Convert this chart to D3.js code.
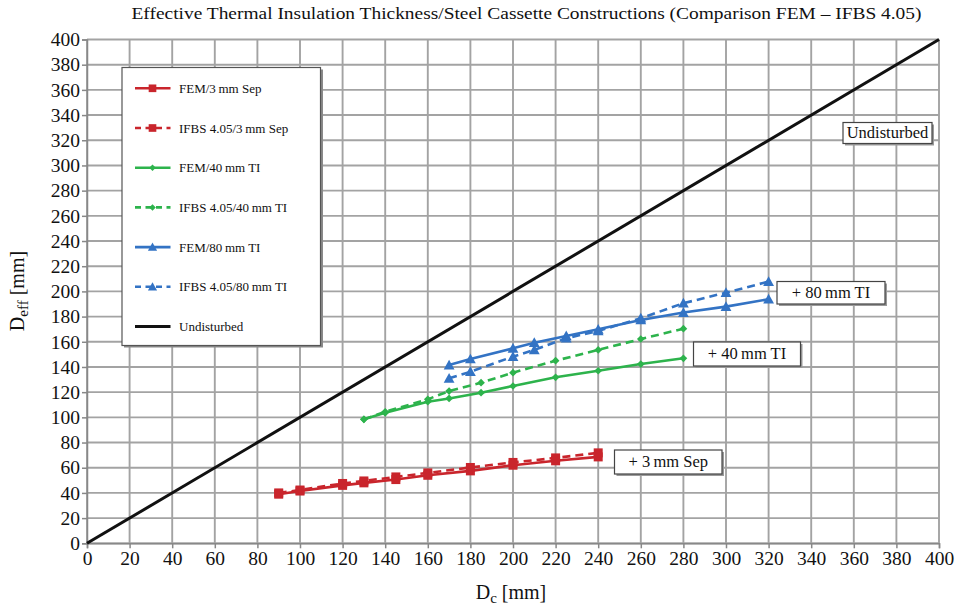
<!DOCTYPE html>
<html><head><meta charset="utf-8">
<script src="https://cdn.jsdelivr.net/npm/d3@7"></script>
<style>
body{margin:0;background:#fff;}
text{font-family:"Liberation Serif","Times New Roman",serif;fill:#111;}
</style></head>
<body><svg id="c" width="963" height="610"></svg>
<script>
// ---- data ----
const xTicks = d3.range(0, 401, 20);
const yTicks = d3.range(0, 401, 20);

const sepX = [90, 100, 120, 130, 145, 160, 180, 200, 220, 240];
const femSep = [39, 41.5, 46, 48, 50.6, 54, 57.5, 62, 65.5, 68.6];
const ifbsSep = [40, 42.3, 47.5, 49.5, 52.7, 55.9, 60.2, 64.2, 67.8, 71.8];

const ti40X = [130, 140, 160, 170, 185, 200, 220, 240, 260, 280];
const fem40 = [98.4, 103.6, 112.4, 115, 119.6, 124.9, 131.8, 137, 142.3, 146.9];
const ifbs40 = [98.4, 104.4, 114.3, 120.9, 127.5, 135.5, 145, 153.5, 162.2, 170.4];

const ti80X = [170, 180, 200, 210, 225, 240, 260, 280, 300, 320];
const fem80 = [141.5, 146.3, 154.8, 159.3, 164.6, 169.9, 177.3, 183.2, 187.9, 193.8];
const ifbs80 = [131, 136.2, 148.2, 153.5, 162.8, 168.6, 178.7, 190.6, 199, 207.8];

const undistX = [0, 400];
const undistY = [0, 400];

const seriesNames = ["FEM/3\u2009mm Sep", "IFBS 4.05/3\u2009mm Sep", "FEM/40\u2009mm TI", "IFBS 4.05/40\u2009mm TI", "FEM/80\u2009mm TI", "IFBS 4.05/80\u2009mm TI", "Undisturbed"];
const labelTexts = ["Undisturbed", "+ 80\u2009mm TI", "+ 40\u2009mm TI", "+ 3\u2009mm Sep"];

// ---- chart ----
const RED = "#c9252c", GREEN = "#2db34c", BLUE = "#3373c4";
const series = [
  {name: seriesNames[0], xs: sepX, ys: femSep, color: RED, dash: null, marker: "square"},
  {name: seriesNames[1], xs: sepX, ys: ifbsSep, color: RED, dash: "8,5", marker: "square"},
  {name: seriesNames[2], xs: ti40X, ys: fem40, color: GREEN, dash: null, marker: "diamond"},
  {name: seriesNames[3], xs: ti40X, ys: ifbs40, color: GREEN, dash: "8,5", marker: "diamond"},
  {name: seriesNames[4], xs: ti80X, ys: fem80, color: BLUE, dash: null, marker: "triangle"},
  {name: seriesNames[5], xs: ti80X, ys: ifbs80, color: BLUE, dash: "8,5", marker: "triangle"},
  {name: seriesNames[6], xs: undistX, ys: undistY, color: "#111", dash: null, marker: null}
];

const svg = d3.select("#c");
const L = 87, R = 939, T = 39.5, B = 543.3;
const x = d3.scaleLinear().domain([0, 400]).range([L, R]);
const y = d3.scaleLinear().domain([0, 400]).range([B, T]);

// grid
const g = svg.append("g");
g.selectAll("line.vx").data(xTicks).join("line")
  .attr("x1", d => x(d)).attr("x2", d => x(d)).attr("y1", T).attr("y2", B)
  .attr("stroke", "#a3a3a3").attr("stroke-width", 1.9);
g.selectAll("line.hy").data(yTicks).join("line")
  .attr("y1", d => y(d)).attr("y2", d => y(d)).attr("x1", L).attr("x2", R)
  .attr("stroke", "#a3a3a3").attr("stroke-width", 1.9);

// axes
const xAxis = d3.axisBottom(x).tickValues(xTicks).tickSize(5).tickPadding(3);
const yAxis = d3.axisLeft(y).tickValues(yTicks).tickSize(5).tickPadding(2);
const gx = svg.append("g").attr("transform", `translate(0,${B})`).call(xAxis);
const gy = svg.append("g").attr("transform", `translate(${L},0)`).call(yAxis);
[gx, gy].forEach(a => {
  a.attr("font-family", null).attr("font-size", null);
  a.select(".domain").attr("stroke", "#888").attr("stroke-width", 1.5);
  a.selectAll(".tick line").attr("stroke", "#888").attr("stroke-width", 1.5);
  a.selectAll(".tick text").style("font-family", '"Liberation Serif","Times New Roman",serif').style("font-size", "19.5px").attr("fill", "#111");
});

// markers
function marker(sel, type, color, size) {
  if (type === "square") {
    sel.append("rect").attr("x", -size/2).attr("y", -size/2).attr("width", size).attr("height", size).attr("fill", color);
  } else if (type === "diamond") {
    const s = size * 0.55;
    sel.append("path").attr("d", `M0,${-s}L${s},0L0,${s}L${-s},0Z`).attr("fill", color);
  } else if (type === "triangle") {
    const s = size * 0.6;
    sel.append("path").attr("d", `M0,${-s}L${s},${s*0.8}L${-s},${s*0.8}Z`).attr("fill", color);
  }
}
const msize = {square: 9, diamond: 7, triangle: 9};

const line = d3.line().x(d => x(d[0])).y(d => y(d[1]));
const order = [6, 2, 3, 4, 5, 0, 1];
order.forEach(i => {
  const s = series[i];
  const pts = s.xs.map((v, k) => [v, s.ys[k]]);
  svg.append("path").datum(pts).attr("d", line)
    .attr("fill", "none").attr("stroke", s.color)
    .attr("stroke-width", s.marker ? 2.6 : 3)
    .attr("stroke-dasharray", s.dash);
  if (s.marker) {
    pts.forEach(p => {
      const m = svg.append("g").attr("transform", `translate(${x(p[0])},${y(p[1])})`);
      marker(m, s.marker, s.color, msize[s.marker]);
    });
  }
});

// boxed labels with shadow
function boxLabel(x0, y0, w, h, txt, fs) {
  const gg = svg.append("g");
  gg.append("rect").attr("x", x0 + 2).attr("y", y0 + 2).attr("width", w).attr("height", h).attr("fill", "#9a9a9a");
  gg.append("rect").attr("x", x0).attr("y", y0).attr("width", w).attr("height", h)
    .attr("fill", "#fff").attr("stroke", "#444").attr("stroke-width", 1.2);
  gg.append("text").attr("x", x0 + w/2).attr("y", y0 + h/2 + fs*0.33).attr("text-anchor", "middle")
    .style("font-size", fs + "px").text(txt);
}
boxLabel(843, 122.5, 89, 21, labelTexts[0], 16.5);
boxLabel(777, 281.5, 108, 22.5, labelTexts[1], 16.5);
boxLabel(693.5, 342, 107, 24, labelTexts[2], 16.5);
boxLabel(614.5, 450, 107.5, 24, labelTexts[3], 16.5);

// legend
const lg = svg.append("g");
lg.append("rect").attr("x", 124).attr("y", 69.5).attr("width", 199).attr("height", 278).attr("fill", "#8a8a8a");
lg.append("rect").attr("x", 122).attr("y", 67.5).attr("width", 198.5).attr("height", 278)
  .attr("fill", "#fff").attr("stroke", "#555").attr("stroke-width", 1.2);
series.forEach((s, i) => {
  const ry = 88.3 + i * 39.7;
  lg.append("line").attr("x1", 135).attr("x2", 170.5).attr("y1", ry).attr("y2", ry)
    .attr("stroke", s.color).attr("stroke-width", s.marker ? 2.6 : 3)
    .attr("stroke-dasharray", s.dash ? "6,4.5" : null);
  if (s.marker) {
    const m = lg.append("g").attr("transform", `translate(152.5,${ry})`);
    marker(m, s.marker, s.color, msize[s.marker] * 0.85);
  }
  lg.append("text").attr("x", 179).attr("y", ry + 4.5).style("font-size", "13px").text(s.name);
});

// title
svg.append("text").attr("x", 131.5).attr("y", 19).attr("textLength", 790).attr("lengthAdjust", "spacingAndGlyphs")
  .style("font-size", "16.5px").text("Effective Thermal Insulation Thickness/Steel Cassette Constructions (Comparison FEM \u2013 IFBS 4.05)");

// axis titles
const xt = svg.append("text").attr("x", 511).attr("y", 599).attr("text-anchor", "middle").style("font-size", "20px");
xt.append("tspan").text("D");
xt.append("tspan").attr("dy", 4).style("font-size", "15px").text("c");
xt.append("tspan").attr("dy", -4).text(" [mm]");
const yt = svg.append("text").attr("transform", "translate(24,291) rotate(-90)").attr("text-anchor", "middle").style("font-size", "20px");
yt.append("tspan").text("D");
yt.append("tspan").attr("dy", 4).style("font-size", "15px").text("eff");
yt.append("tspan").attr("dy", -4).text(" [mm]");
</script></body></html>
